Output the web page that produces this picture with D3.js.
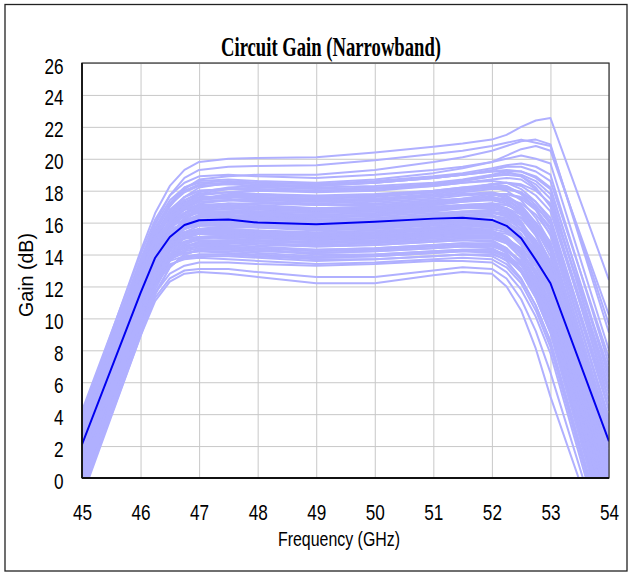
<!DOCTYPE html>
<html>
<head>
<meta charset="utf-8">
<script src="https://cdn.jsdelivr.net/npm/d3@7"></script>
<style>
	body { margin: 0; background: #fff; }
	svg text { fill: #000; }
</style>
</head>
<body>
<div id="chart"></div>
<script>
// frequency points (GHz) shared by every run
const freqs = [45, 46, 46.25, 46.5, 46.75, 47, 47.5, 48, 49, 50, 51, 51.5, 52, 52.25, 52.5, 52.75, 53, 54]

// mean gain (dark blue)
const meanGain = [2.1, 11.6, 13.8, 15.1, 15.85, 16.15, 16.2, 16.0, 15.9, 16.05, 16.25, 16.3, 16.17, 15.8, 15.02, 13.66, 12.2, 2.3]

// monte carlo runs (light blue), gain in dB at each freq
const runs = [
	[3.9, 14.2, 16.6, 18.3, 19.3, 19.8, 20.0, 20.05, 20.1, 20.4, 20.75, 20.95, 21.2, 21.5, 22.0, 22.4, 22.55, 12.4],
	[3.5, 13.6, 16.0, 17.7, 18.8, 19.3, 19.5, 19.55, 19.6, 19.9, 20.3, 20.5, 20.8, 21.0, 21.2, 21.0, 20.8, 9.6],
	[3.0, 13.0, 15.4, 17.0, 18.1, 18.7, 18.9, 19.0, 19.0, 19.3, 19.8, 20.1, 20.5, 20.8, 21.1, 21.2, 20.9, 9.1],
	[4.2, 14.0, 16.2, 17.7, 18.5, 18.9, 19.0, 18.9, 18.8, 19.0, 19.3, 19.5, 19.8, 20.0, 20.2, 20.0, 19.7, 8.0],
	[2.6, 12.5, 14.8, 16.5, 17.6, 18.2, 18.5, 18.5, 18.4, 18.6, 18.9, 19.1, 19.4, 19.6, 19.7, 19.5, 19.0, 7.1],
	[3.7, 13.4, 15.6, 17.1, 17.9, 18.3, 18.4, 18.3, 18.2, 18.3, 18.5, 18.7, 19.0, 19.2, 19.2, 18.9, 18.2, 6.3],
	[1.9, 11.8, 14.2, 16.0, 17.2, 17.8, 18.1, 18.2, 18.1, 18.2, 18.4, 18.6, 18.9, 19.1, 19.0, 18.6, 17.8, 5.6],
	[3.2, 12.9, 15.2, 16.8, 17.6, 18.0, 18.1, 18.0, 17.9, 18.0, 18.3, 18.5, 18.7, 18.8, 18.7, 18.1, 17.1, 4.9],
	[2.9, 12.6, 14.9, 16.5, 17.4, 17.8, 17.9, 17.8, 17.7, 17.8, 18.0, 18.2, 18.3, 18.2, 17.8, 16.9, 15.5, 3.8],
	[1.5, 11.3, 13.8, 15.7, 16.9, 17.5, 17.8, 17.8, 17.6, 17.7, 17.9, 18.1, 18.4, 18.5, 18.4, 18.0, 17.2, 6.8],
	[3.4, 13.1, 15.2, 16.6, 17.3, 17.6, 17.6, 17.5, 17.3, 17.4, 17.6, 17.8, 17.9, 17.7, 17.1, 16.0, 14.4, 2.5],
	[2.2, 12.0, 14.4, 16.0, 16.9, 17.3, 17.4, 17.4, 17.3, 17.4, 17.7, 17.9, 18.1, 18.1, 17.9, 17.3, 16.3, 4.4],
	[0.8, 10.6, 13.2, 15.1, 16.3, 16.9, 17.2, 17.2, 17.1, 17.2, 17.4, 17.5, 17.6, 17.4, 16.8, 15.6, 13.9, 1.2],
	[2.7, 12.4, 14.6, 16.0, 16.8, 17.1, 17.2, 17.1, 16.9, 17.0, 17.2, 17.4, 17.5, 17.3, 16.6, 15.3, 13.5, 0.6],
	[1.9, 11.7, 14.1, 15.7, 16.6, 17.0, 17.0, 16.9, 16.8, 16.9, 17.1, 17.3, 17.5, 17.5, 17.2, 16.5, 15.3, 3.1],
	[3.8, 13.3, 15.2, 16.3, 16.8, 17.0, 17.0, 16.9, 16.7, 16.8, 17.0, 17.1, 17.2, 16.9, 16.1, 14.6, 12.6, -0.3],
	[1.2, 11.0, 13.5, 15.2, 16.2, 16.7, 16.9, 16.8, 16.7, 16.8, 17.0, 17.1, 17.2, 17.1, 16.7, 15.8, 14.4, 2.0],
	[0.3, 10.1, 12.7, 14.6, 15.8, 16.4, 16.7, 16.7, 16.6, 16.7, 16.9, 17.0, 17.0, 16.7, 15.9, 14.5, 12.6, -0.6],
	[2.4, 12.1, 14.3, 15.7, 16.4, 16.6, 16.6, 16.5, 16.3, 16.4, 16.6, 16.7, 16.7, 16.4, 15.6, 14.1, 12.1, -1.2],
	[1.6, 11.4, 13.7, 15.2, 16.0, 16.3, 16.4, 16.4, 16.3, 16.5, 16.8, 17.0, 17.2, 17.1, 16.8, 16.0, 14.8, 2.7],
	[3.1, 12.7, 14.6, 15.7, 16.2, 16.4, 16.3, 16.2, 16.0, 16.1, 16.3, 16.4, 16.4, 16.0, 15.1, 13.5, 11.4, -1.8],
	[0.6, 10.4, 12.9, 14.6, 15.6, 16.0, 16.2, 16.2, 16.1, 16.2, 16.4, 16.5, 16.6, 16.4, 15.9, 14.9, 13.4, 0.9],
	[2.0, 11.8, 14.0, 15.3, 15.9, 16.1, 16.1, 16.0, 15.8, 15.9, 16.1, 16.2, 16.2, 15.9, 15.1, 13.7, 11.8, -0.9],
	[1.0, 10.8, 13.2, 14.8, 15.6, 15.9, 16.0, 15.9, 15.8, 15.9, 16.2, 16.4, 16.6, 16.6, 16.3, 15.6, 14.5, 2.9],
	[2.8, 12.4, 14.3, 15.3, 15.7, 15.8, 15.8, 15.7, 15.5, 15.6, 15.8, 15.9, 15.9, 15.5, 14.6, 13.0, 10.9, -2.3],
	[-0.2, 9.6, 12.2, 14.0, 15.1, 15.6, 15.8, 15.8, 15.7, 15.8, 16.0, 16.1, 16.1, 15.8, 15.0, 13.6, 11.7, -1.0],
	[1.4, 11.2, 13.5, 14.8, 15.4, 15.6, 15.6, 15.5, 15.4, 15.5, 15.7, 15.8, 15.8, 15.5, 14.8, 13.5, 11.7, -0.8],
	[2.3, 12.0, 13.9, 15.0, 15.4, 15.5, 15.5, 15.4, 15.2, 15.3, 15.5, 15.6, 15.7, 15.6, 15.2, 14.4, 13.1, 1.6],
	[0.4, 10.2, 12.7, 14.3, 15.0, 15.3, 15.4, 15.4, 15.3, 15.4, 15.5, 15.6, 15.5, 15.1, 14.2, 12.7, 10.6, -2.6],
	[3.3, 12.9, 14.4, 15.0, 15.2, 15.3, 15.2, 15.1, 14.9, 15.0, 15.2, 15.3, 15.3, 14.9, 14.0, 12.4, 10.2, -3.0],
	[1.7, 11.5, 13.5, 14.6, 15.0, 15.1, 15.1, 15.0, 14.9, 15.0, 15.2, 15.3, 15.4, 15.3, 14.9, 14.1, 12.8, 1.1],
	[-0.6, 9.2, 11.8, 13.6, 14.6, 15.0, 15.1, 15.1, 15.0, 15.1, 15.3, 15.4, 15.3, 14.9, 14.0, 12.5, 10.5, -2.4],
	[2.5, 12.2, 13.8, 14.5, 14.8, 14.9, 14.8, 14.7, 14.5, 14.6, 14.8, 14.9, 14.9, 14.4, 13.4, 11.7, 9.4, -3.6],
	[0.9, 10.7, 12.9, 14.0, 14.5, 14.7, 14.7, 14.6, 14.5, 14.6, 14.8, 14.9, 14.8, 14.4, 13.5, 12.0, 9.9, -2.9],
	[1.3, 11.1, 13.1, 14.0, 14.4, 14.5, 14.5, 14.4, 14.2, 14.3, 14.5, 14.6, 14.6, 14.3, 13.6, 12.3, 10.5, -1.9],
	[-1.0, 8.9, 11.5, 13.2, 14.0, 14.3, 14.4, 14.4, 14.3, 14.4, 14.6, 14.7, 14.6, 14.1, 13.1, 11.5, 9.3, -3.8],
	[2.1, 11.8, 13.3, 13.9, 14.1, 14.2, 14.1, 14.0, 13.8, 13.9, 14.1, 14.2, 14.2, 13.8, 12.9, 11.3, 9.1, -3.9],
	[0.1, 9.9, 12.1, 13.3, 13.8, 14.0, 14.0, 13.9, 13.8, 13.9, 14.1, 14.2, 14.1, 13.6, 12.5, 10.8, 8.5, -4.6],
	[1.1, 10.9, 12.6, 13.4, 13.7, 13.8, 13.7, 13.6, 13.4, 13.5, 13.7, 13.8, 13.7, 13.2, 12.2, 10.5, 8.2, -4.8],
	[-0.4, 9.4, 11.6, 12.8, 13.3, 13.5, 13.5, 13.4, 13.3, 13.4, 13.6, 13.6, 13.5, 12.9, 11.8, 10.1, 7.8, -5.1],
	[-1.2, 8.9, 11.1, 12.3, 12.8, 12.9, 12.8, 12.6, 12.2, 12.2, 12.7, 12.9, 12.8, 12.0, 10.5, 8.1, 5.1, -5.5],
	[-0.9, 9.1, 11.3, 12.5, 13.0, 13.1, 13.1, 12.9, 12.6, 12.6, 13.0, 13.2, 13.1, 12.5, 11.2, 9.2, 6.6, -5.3],
	[2.6, 12.3, 14.5, 15.9, 16.6, 16.9, 17.0, 16.9, 16.8, 16.9, 17.2, 17.4, 17.7, 17.8, 17.6, 17.0, 16.0, 4.2],
	[1.8, 11.6, 13.9, 15.4, 16.1, 16.4, 16.5, 16.4, 16.2, 16.2, 16.4, 16.5, 16.5, 16.1, 15.3, 13.8, 11.9, -1.5],
	[0.5, 10.3, 12.8, 14.5, 15.4, 15.8, 15.9, 15.9, 15.8, 15.9, 16.1, 16.3, 16.4, 16.3, 15.8, 14.8, 13.3, 0.7],
	[3.6, 13.2, 15.1, 16.4, 17.1, 17.5, 17.6, 17.5, 17.4, 17.5, 17.7, 17.8, 17.8, 17.5, 16.8, 15.4, 13.4, 0.2],
	[2.4, 12.2, 14.6, 16.2, 17.2, 17.7, 17.9, 18.0, 18.0, 18.1, 18.3, 18.5, 18.6, 18.5, 18.1, 17.3, 16.1, 4.8],
	[1.0, 10.8, 13.1, 14.6, 15.3, 15.6, 15.6, 15.5, 15.3, 15.4, 15.7, 15.9, 16.0, 15.8, 15.2, 14.1, 12.5, -0.2],
	[2.9, 12.6, 14.2, 14.9, 15.2, 15.3, 15.3, 15.2, 15.0, 15.0, 15.2, 15.3, 15.3, 14.8, 13.8, 12.1, 9.8, -3.3],
	[0.2, 10.0, 12.3, 13.8, 14.5, 14.8, 14.9, 14.9, 14.8, 14.9, 15.1, 15.2, 15.2, 15.0, 14.4, 13.3, 11.6, -1.4],
	[3.0, 12.8, 15.0, 16.4, 17.4, 17.9, 18.2, 18.3, 18.3, 18.5, 18.8, 19.0, 19.2, 19.2, 18.9, 18.2, 17.0, 5.6],
	[1.6, 11.4, 13.6, 15.0, 15.8, 16.1, 16.2, 16.1, 15.9, 16.0, 16.2, 16.3, 16.4, 16.2, 15.6, 14.5, 12.9, 0.4],
	[4.0, 13.6, 15.4, 16.4, 16.9, 17.1, 17.1, 17.0, 16.8, 16.9, 17.1, 17.3, 17.4, 17.2, 16.5, 15.2, 13.3, 0.1],
	[0.7, 10.5, 12.6, 13.8, 14.3, 14.5, 14.4, 14.3, 14.0, 14.0, 14.2, 14.3, 14.3, 13.9, 13.1, 11.7, 9.7, -3.4],
	[3.4, 13.3, 15.6, 17.2, 18.2, 18.6, 18.7, 18.6, 18.5, 18.7, 19.1, 19.4, 19.8, 20.2, 20.6, 20.8, 20.5, 10.2],
	[2.2, 12.0, 14.4, 16.0, 17.0, 17.5, 17.6, 17.6, 17.5, 17.6, 17.9, 18.1, 18.4, 18.5, 18.3, 17.7, 16.7, 5.3],
	[2.0, 11.9, 14.3, 15.9, 16.9, 17.4, 17.6, 17.6, 17.5, 17.7, 18.0, 18.2, 18.4, 18.3, 17.8, 16.8, 15.2, 2.9],
	[3.3, 13.0, 15.1, 16.5, 17.2, 17.5, 17.5, 17.3, 17.1, 17.1, 17.3, 17.5, 17.6, 17.4, 16.9, 15.9, 14.6, 2.2],
	[1.1, 10.9, 13.4, 15.2, 16.3, 16.8, 17.0, 17.0, 16.9, 17.0, 17.3, 17.5, 17.8, 17.8, 17.5, 16.8, 15.7, 3.6],
	[2.8, 12.5, 14.6, 15.9, 16.5, 16.7, 16.7, 16.6, 16.4, 16.5, 16.8, 17.0, 17.1, 16.9, 16.3, 15.2, 13.6, 0.8],
	[0.9, 10.7, 13.1, 14.8, 15.7, 16.1, 16.3, 16.3, 16.2, 16.3, 16.5, 16.7, 16.8, 16.7, 16.3, 15.5, 14.2, 1.9],
	[2.5, 12.2, 14.2, 15.3, 15.8, 16.0, 16.0, 15.9, 15.7, 15.7, 15.9, 16.0, 16.0, 15.6, 14.8, 13.4, 11.5, -1.3],
	[1.3, 11.1, 13.4, 14.9, 15.6, 15.9, 16.0, 15.9, 15.7, 15.8, 16.0, 16.1, 16.1, 15.7, 14.8, 13.3, 11.2, -2.0],
	[3.5, 13.1, 14.8, 15.6, 15.9, 16.0, 15.9, 15.8, 15.6, 15.7, 15.9, 16.1, 16.2, 16.0, 15.5, 14.6, 13.2, 0.5],
	[0.0, 9.8, 12.4, 14.2, 15.2, 15.6, 15.7, 15.7, 15.6, 15.7, 15.9, 16.0, 16.0, 15.7, 15.0, 13.8, 12.1, -0.5],
	[2.2, 12.0, 13.9, 14.9, 15.3, 15.4, 15.4, 15.3, 15.1, 15.2, 15.4, 15.5, 15.5, 15.1, 14.2, 12.8, 10.8, -2.2],
	[1.5, 11.3, 13.4, 14.6, 15.1, 15.3, 15.3, 15.2, 15.1, 15.2, 15.4, 15.5, 15.6, 15.4, 14.9, 14.0, 12.6, 0.3],
	[-0.3, 9.5, 12.0, 13.8, 14.7, 15.1, 15.2, 15.2, 15.1, 15.2, 15.4, 15.5, 15.4, 15.0, 14.2, 12.8, 10.9, -2.0],
	[2.7, 12.4, 14.0, 14.7, 15.0, 15.1, 15.0, 14.9, 14.7, 14.8, 15.0, 15.1, 15.1, 14.7, 13.8, 12.3, 10.2, -2.8],
	[0.6, 10.4, 12.6, 13.9, 14.5, 14.7, 14.8, 14.7, 14.6, 14.7, 14.9, 15.0, 15.0, 14.7, 14.1, 13.0, 11.4, -1.1],
	[1.9, 11.7, 13.4, 14.2, 14.5, 14.6, 14.6, 14.5, 14.3, 14.4, 14.6, 14.7, 14.7, 14.3, 13.4, 11.9, 9.8, -3.1],
	[-0.7, 9.2, 11.6, 13.2, 14.0, 14.3, 14.3, 14.2, 14.1, 14.2, 14.4, 14.5, 14.4, 13.9, 12.9, 11.3, 9.1, -4.0],
	[1.2, 11.0, 12.8, 13.7, 14.1, 14.2, 14.2, 14.1, 13.9, 14.0, 14.2, 14.3, 14.3, 14.0, 13.3, 12.1, 10.3, -2.1],
	[0.3, 10.1, 12.2, 13.3, 13.8, 13.9, 13.9, 13.8, 13.6, 13.7, 13.9, 14.0, 13.9, 13.4, 12.4, 10.8, 8.6, -4.3],
	[3.0, 12.8, 15.1, 16.7, 17.6, 18.0, 18.1, 18.1, 18.0, 18.1, 18.4, 18.6, 18.9, 19.0, 18.9, 18.4, 17.5, 6.0],
	[3.9, 13.7, 15.9, 17.4, 18.2, 18.5, 18.6, 18.5, 18.4, 18.5, 18.8, 19.0, 19.3, 19.5, 19.5, 19.2, 18.6, 7.5],
	[1.4, 11.2, 13.7, 15.5, 16.6, 17.2, 17.4, 17.5, 17.4, 17.5, 17.8, 18.0, 18.2, 18.2, 17.9, 17.1, 15.9, 3.4],
	[2.5, 12.3, 14.6, 16.1, 16.9, 17.3, 17.4, 17.3, 17.2, 17.3, 17.5, 17.7, 17.8, 17.6, 17.0, 15.9, 14.2, 1.4],
	[0.4, 10.2, 12.8, 14.7, 15.8, 16.4, 16.6, 16.6, 16.5, 16.6, 16.8, 16.9, 16.9, 16.6, 15.8, 14.4, 12.4, -0.7],
	[3.2, 12.9, 14.9, 16.1, 16.6, 16.8, 16.8, 16.7, 16.6, 16.7, 16.9, 17.0, 17.1, 16.8, 16.0, 14.6, 12.7, -0.4],
	[1.7, 11.5, 13.8, 15.3, 16.1, 16.5, 16.6, 16.5, 16.4, 16.5, 16.7, 16.9, 17.0, 16.9, 16.5, 15.7, 14.5, 2.3],
	[2.1, 11.9, 14.0, 15.3, 15.9, 16.2, 16.3, 16.3, 16.1, 16.2, 16.5, 16.6, 16.7, 16.5, 15.9, 14.8, 13.2, 0.6],
	[0.8, 10.6, 12.9, 14.4, 15.1, 15.4, 15.5, 15.4, 15.3, 15.4, 15.6, 15.8, 15.9, 15.7, 15.2, 14.3, 12.9, 0.5],
	[2.6, 12.3, 14.0, 14.9, 15.3, 15.4, 15.4, 15.3, 15.2, 15.3, 15.6, 15.7, 15.8, 15.6, 15.0, 14.0, 12.5, -0.1],
	[0.2, 10.0, 12.5, 14.0, 14.8, 15.1, 15.2, 15.1, 15.0, 15.1, 15.3, 15.4, 15.4, 15.0, 14.2, 12.9, 11.0, -1.7],
	[1.6, 11.4, 13.3, 14.3, 14.8, 14.9, 14.9, 14.8, 14.7, 14.8, 15.0, 15.1, 15.1, 14.9, 14.3, 13.3, 11.8, -0.6],
	[3.7, 13.5, 15.7, 17.2, 18.0, 18.4, 18.5, 18.4, 18.3, 18.5, 18.8, 19.0, 19.2, 19.3, 19.2, 18.8, 18.1, 6.6],
	[2.3, 12.1, 14.5, 16.1, 17.0, 17.5, 17.7, 17.7, 17.6, 17.7, 17.9, 18.1, 18.2, 18.0, 17.4, 16.3, 14.7, 2.1],
	[0.5, 10.3, 12.5, 13.7, 14.2, 14.4, 14.4, 14.3, 14.1, 14.2, 14.4, 14.5, 14.5, 14.2, 13.6, 12.5, 10.9, -1.5],
	[1.0, 10.8, 12.7, 13.6, 13.9, 14.0, 14.0, 13.9, 13.7, 13.7, 13.9, 14.0, 14.0, 13.7, 13.0, 11.8, 10.1, -2.4]
]

const xTicks = [45, 46, 47, 48, 49, 50, 51, 52, 53, 54]
const yTicks = [0, 2, 4, 6, 8, 10, 12, 14, 16, 18, 20, 22, 24, 26]

const svgWidth = 632
const svgHeight = 573

let margin = { top: 63, right: 23, bottom: 95, left: 82 }
let width = svgWidth - margin.left - margin.right
let height = svgHeight - margin.top - margin.bottom

let svg = d3.select("#chart")
	.append("svg")
	.attr("width", svgWidth)
	.attr("height", svgHeight)

// outer frame
svg.append("rect")
	.attr("x", 5)
	.attr("y", 4.5)
	.attr("width", 622)
	.attr("height", 566.5)
	.attr("fill", "none")
	.attr("stroke", "#222")
	.attr("stroke-width", 1.3)

let chartGroup = svg.append("g")
	.attr("transform", `translate(${margin.left}, ${margin.top})`)

let x = d3.scaleLinear().domain([45, 54]).range([0, width])
let y = d3.scaleLinear().domain([0, 26]).range([height, 0])

// gridlines
chartGroup.append("g")
	.attr("transform", `translate(0, ${height})`)
	.call(d3.axisBottom(x).tickValues(xTicks).tickSize(-height).tickFormat(""))
	.call(g => g.select(".domain").remove())
	.selectAll("line").attr("stroke", "#c8c8c8")

chartGroup.append("g")
	.call(d3.axisLeft(y).tickValues(yTicks).tickSize(-width).tickFormat(""))
	.call(g => g.select(".domain").remove())
	.selectAll("line").attr("stroke", "#c8c8c8")

// clip for the runs
chartGroup.append("clipPath")
	.attr("id", "plotClip")
	.append("rect")
	.attr("width", width)
	.attr("height", height)

let line = d3.line()
	.x((d, i) => x(freqs[i]))
	.y(d => y(d))

let plot = chartGroup.append("g").attr("clip-path", "url(#plotClip)")

plot.selectAll(".run")
	.data(runs)
	.enter()
	.append("path")
	.attr("class", "run")
	.attr("d", line)
	.attr("fill", "none")
	.attr("stroke", "#b0b0ff")
	.attr("stroke-width", 2)
	.attr("stroke-linejoin", "round")

plot.append("path")
	.attr("d", line(meanGain))
	.attr("fill", "none")
	.attr("stroke", "#0000f0")
	.attr("stroke-width", 2)
	.attr("stroke-linejoin", "round")

// plot frame
chartGroup.append("rect")
	.attr("width", width)
	.attr("height", height)
	.attr("fill", "none")
	.attr("stroke", "#333")
	.attr("stroke-width", 1.2)

chartGroup.append("line")
	.attr("x1", 0).attr("x2", 0)
	.attr("y1", 0).attr("y2", height)
	.attr("stroke", "#111").attr("stroke-width", 1.8)
chartGroup.append("line")
	.attr("x1", 0).attr("x2", width)
	.attr("y1", height).attr("y2", height)
	.attr("stroke", "#111").attr("stroke-width", 1.8)

// tick labels (narrow sans)
chartGroup.append("g")
	.attr("transform", `translate(0, ${height})`)
	.call(d3.axisBottom(x).tickValues(xTicks).tickSize(0))
	.call(g => g.select(".domain").remove())
	.selectAll("text")
	.attr("y", 0)
	.attr("dy", 0)
	.attr("text-anchor", "middle")
	.attr("transform", "translate(0, 42) scale(0.78, 1)")
	.style("font-family", "'Liberation Sans', Arial, sans-serif")
	.style("font-size", "22px")
	.style("fill", "#000")

chartGroup.append("g")
	.call(d3.axisLeft(y).tickValues(yTicks).tickSize(0))
	.call(g => g.select(".domain").remove())
	.selectAll("text")
	.attr("x", 0)
	.attr("dy", 0)
	.attr("text-anchor", "end")
	.attr("transform", "translate(-18.5, 10) scale(0.78, 1)")
	.style("font-family", "'Liberation Sans', Arial, sans-serif")
	.style("font-size", "22px")
	.style("fill", "#000")

// title
svg.append("text")
	.attr("x", 331)
	.attr("y", 56)
	.attr("text-anchor", "middle")
	.attr("textLength", 220)
	.attr("lengthAdjust", "spacingAndGlyphs")
	.style("font-family", "'Liberation Serif', 'Times New Roman', serif")
	.style("font-weight", "bold")
	.style("font-size", "27px")
	.text("Circuit Gain (Narrowband)")

// axis titles
svg.append("text")
	.attr("x", 339)
	.attr("y", 546)
	.attr("text-anchor", "middle")
	.attr("textLength", 122)
	.attr("lengthAdjust", "spacingAndGlyphs")
	.style("font-family", "'Liberation Sans', Arial, sans-serif")
	.style("font-size", "21px")
	.text("Frequency (GHz)")

svg.append("text")
	.attr("transform", "translate(33, 275) rotate(-90)")
	.attr("text-anchor", "middle")
	.attr("textLength", 84)
	.attr("lengthAdjust", "spacingAndGlyphs")
	.style("font-family", "'Liberation Sans', Arial, sans-serif")
	.style("font-size", "20px")
	.text("Gain (dB)")
</script>
</body>
</html>
